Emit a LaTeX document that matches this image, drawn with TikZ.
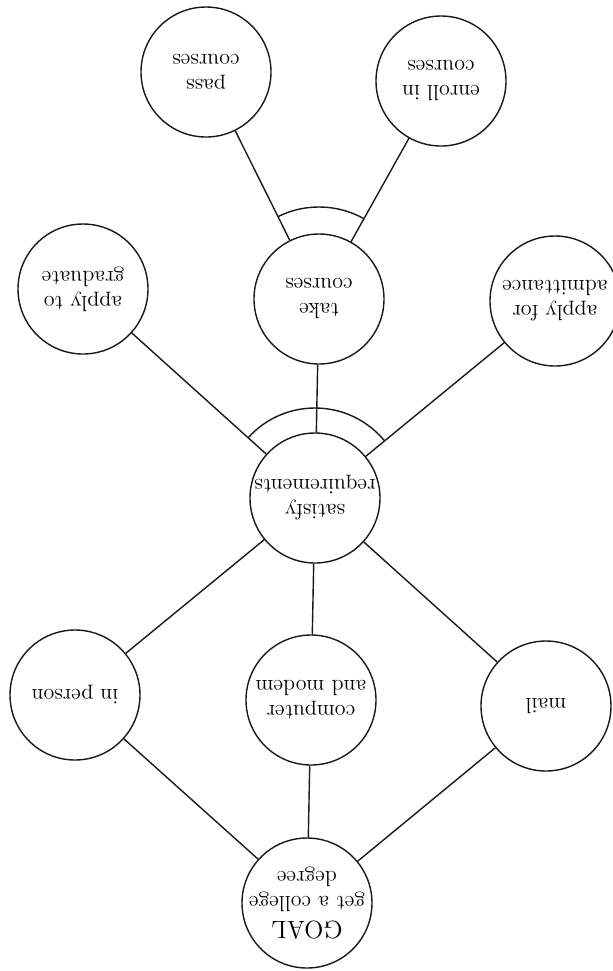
\documentclass[tikz,border=0pt]{standalone}
\begin{document}
\begin{tikzpicture}[x=0.5pt,y=-0.5pt,
  bubble/.style={circle,draw=black!90,line width=0.7pt,minimum size=65pt,inner sep=-4pt,
    align=center,rotate=180,font=\fontsize{11}{12.5}\selectfont},
  link/.style={draw=black!90,line width=0.7pt},
  andarc/.style={draw=black!90,line width=0.7pt}]
\useasboundingbox (0,0) rectangle (612,971);
% nodes
\node[bubble] (pass)   at (206,72)  {pass\\courses};
\node[bubble] (enroll) at (441,81)  {enroll in\\courses};
\node[bubble] (grad)   at (83,289)  {apply to\\graduate};
\node[bubble] (take)   at (319,299) {take\\courses};
\node[bubble] (adm)    at (555,301) {apply for\\admittance};
\node[bubble] (sat)    at (315,498) {satisfy\\requirements};
\node[bubble] (pers)   at (75,695)  {in person};
\node[bubble] (comp)   at (311,700) {computer\\and modem};
\node[bubble] (mail)   at (546,706) {mail};
\node[bubble] (goal)   at (307,903) {{\fontsize{12.5}{15}\selectfont GOAL}\\get a college\\degree};
% connectors
\draw[link] (pass) -- (take);
\draw[link] (enroll) -- (take);
\draw[link] (grad) -- (sat);
\draw[link] (take) -- (sat);
\draw[link] (adm) -- (sat);
\draw[link] (sat) -- (pers);
\draw[link] (sat) -- (comp);
\draw[link] (sat) -- (mail);
\draw[link] (pers) -- (goal);
\draw[link] (comp) -- (goal);
\draw[link] (mail) -- (goal);
% "and" arcs
\begin{scope}
  \clip (take.center) -- (pass.center) -- (enroll.center) -- cycle;
  \draw[andarc] (take.center) circle[radius=46pt];
\end{scope}
\begin{scope}
  \clip (sat.center) -- (grad.center) -- (take.center) -- (adm.center) -- cycle;
  \draw[andarc] (sat.center) circle[radius=45pt];
\end{scope}
\end{tikzpicture}
\end{document}
